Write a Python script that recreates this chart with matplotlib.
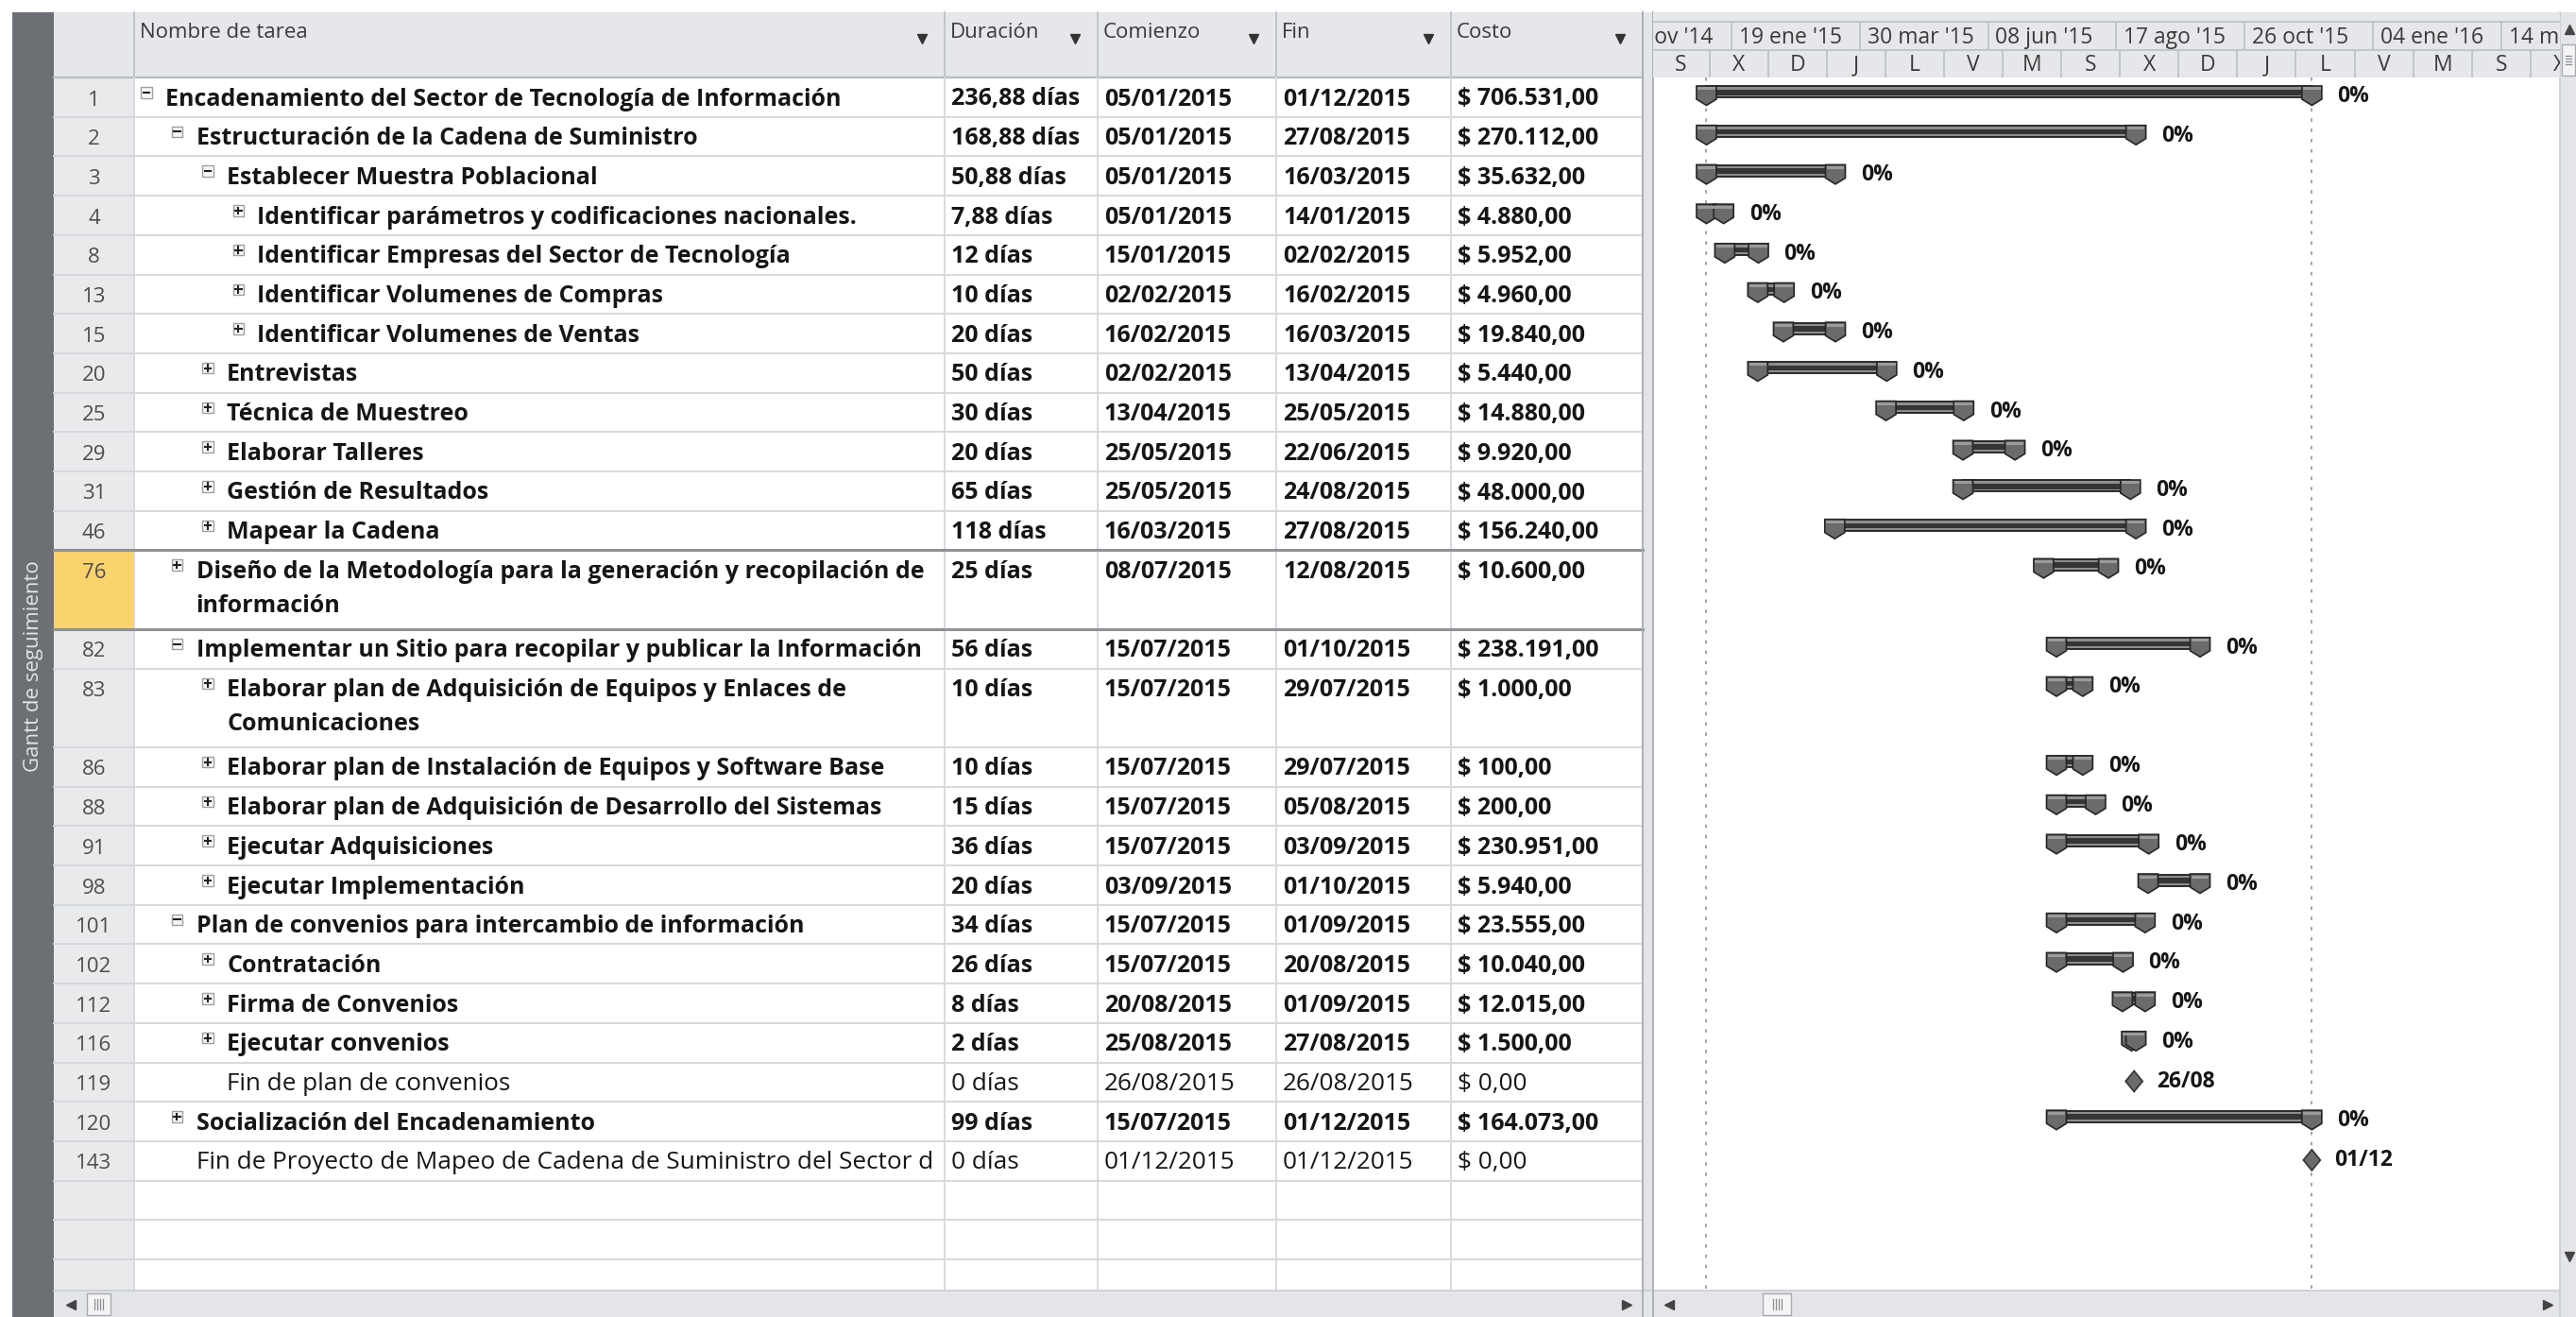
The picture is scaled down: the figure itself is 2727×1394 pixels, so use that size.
import matplotlib
matplotlib.use("Agg")
import matplotlib.pyplot as plt
import matplotlib.dates as mdates
from matplotlib.patches import Rectangle, Polygon
from matplotlib.transforms import Bbox, TransformedBbox
from datetime import datetime, timedelta

plt.rcParams["font.family"] = ["Open Sans", "DejaVu Sans"]

# ---------------------------------------------------------------------------
# Datos del proyecto (vista Gantt de seguimiento)
# ---------------------------------------------------------------------------
task_ids = [1, 2, 3, 4, 8, 13, 15, 20, 25, 29, 31, 46, 76, 82, 83, 86, 88, 91,
            98, 101, 102, 112, 116, 119, 120, 143]
task_names = [
    "Encadenamiento del Sector de Tecnología de Información",
    "Estructuración de la Cadena de Suministro",
    "Establecer Muestra Poblacional",
    "Identificar parámetros y codificaciones nacionales.",
    "Identificar Empresas del Sector de Tecnología",
    "Identificar Volumenes de Compras",
    "Identificar Volumenes de Ventas",
    "Entrevistas",
    "Técnica de Muestreo",
    "Elaborar Talleres",
    "Gestión de Resultados",
    "Mapear la Cadena",
    "Diseño de la Metodología para la generación y recopilación de\ninformación",
    "Implementar un Sitio para recopilar y publicar la Información",
    "Elaborar plan de Adquisición de Equipos y Enlaces de\nComunicaciones",
    "Elaborar plan de Instalación de Equipos y Software Base",
    "Elaborar plan de Adquisición de Desarrollo del Sistemas",
    "Ejecutar Adquisiciones",
    "Ejecutar Implementación",
    "Plan de convenios para intercambio de información",
    "Contratación",
    "Firma de Convenios",
    "Ejecutar convenios",
    "Fin de plan de convenios",
    "Socialización del Encadenamiento",
    "Fin de Proyecto de Mapeo de Cadena de Suministro del Sector d",
]
outline_levels = [0, 1, 2, 3, 3, 3, 3, 2, 2, 2, 2, 2, 1, 1, 2, 2, 2, 2, 2, 1,
                  2, 2, 2, 2, 1, 1]
toggles = ["-", "-", "-", "+", "+", "+", "+", "+", "+", "+", "+", "+", "+",
           "-", "+", "+", "+", "+", "+", "-", "+", "+", "+", "", "+", ""]
durations = ["236,88 días", "168,88 días", "50,88 días", "7,88 días", "12 días",
             "10 días", "20 días", "50 días", "30 días", "20 días", "65 días",
             "118 días", "25 días", "56 días", "10 días", "10 días", "15 días",
             "36 días", "20 días", "34 días", "26 días", "8 días", "2 días",
             "0 días", "99 días", "0 días"]
start_dates = ["05/01/2015", "05/01/2015", "05/01/2015", "05/01/2015", "15/01/2015",
               "02/02/2015", "16/02/2015", "02/02/2015", "13/04/2015", "25/05/2015",
               "25/05/2015", "16/03/2015", "08/07/2015", "15/07/2015", "15/07/2015",
               "15/07/2015", "15/07/2015", "15/07/2015", "03/09/2015", "15/07/2015",
               "15/07/2015", "20/08/2015", "25/08/2015", "26/08/2015", "15/07/2015",
               "01/12/2015"]
finish_dates = ["01/12/2015", "27/08/2015", "16/03/2015", "14/01/2015", "02/02/2015",
                "16/02/2015", "16/03/2015", "13/04/2015", "25/05/2015", "22/06/2015",
                "24/08/2015", "27/08/2015", "12/08/2015", "01/10/2015", "29/07/2015",
                "29/07/2015", "05/08/2015", "03/09/2015", "01/10/2015", "01/09/2015",
                "20/08/2015", "01/09/2015", "27/08/2015", "26/08/2015", "01/12/2015",
                "01/12/2015"]
costs = ["$ 706.531,00", "$ 270.112,00", "$ 35.632,00", "$ 4.880,00", "$ 5.952,00",
         "$ 4.960,00", "$ 19.840,00", "$ 5.440,00", "$ 14.880,00", "$ 9.920,00",
         "$ 48.000,00", "$ 156.240,00", "$ 10.600,00", "$ 238.191,00", "$ 1.000,00",
         "$ 100,00", "$ 200,00", "$ 230.951,00", "$ 5.940,00", "$ 23.555,00",
         "$ 10.040,00", "$ 12.015,00", "$ 1.500,00", "$ 0,00", "$ 164.073,00",
         "$ 0,00"]
bar_labels = ["0%"] * 23 + ["26/08", "0%", "01/12"]
is_milestone = [d == "0 días" for d in durations]

column_titles = ["Nombre de tarea", "Duración", "Comienzo", "Fin", "Costo"]

# escala de tiempo (dos niveles)
top_tier_first = "10/11/2014"
top_tier_labels = ["10 nov '14", "19 ene '15", "30 mar '15", "08 jun '15",
                   "17 ago '15", "26 oct '15", "04 ene '16", "14 mar '16"]
bottom_tier_first = "06/12/2014"
bottom_tier_labels = ["S", "X", "D", "J", "L", "V", "M", "S", "X", "D", "J",
                      "L", "V", "M", "S", "X"]
view_start = datetime(2014, 12, 7, 5)
view_end = datetime(2016, 4, 15, 2)

# ---------------------------------------------------------------------------
# Geometría (píxeles de la captura)
# ---------------------------------------------------------------------------
W, H, DPI = 2727, 1394, 100
TOP = 13
HEAD_B = 82
ROW_H = 41.7
STRIP_L, STRIP_R = 13, 57
NUM_R = 142
COL_EDGES = [142, 1000, 1162, 1351, 1536, 1739]
GL, GR = 1750, 2710
BODY_B = 1366

C_HEAD = "#e5e7ea"
C_GRID = "#d6d8db"
C_DIV = "#bfc2c6"
C_TEXT = "#161616"

FS_BOLD = 18
FS_NORMAL = 18.8
FS_HEAD = 16
FS_SCALE = 16.5


def parse(s):
    return datetime.strptime(s, "%d/%m/%Y")


fig = plt.figure(figsize=(W / DPI, H / DPI), dpi=DPI, facecolor="white")
base = fig.add_axes([0, 0, 1, 1])
base.set_xlim(0, W)
base.set_ylim(H, 0)
base.axis("off")

# franja lateral oscura
base.add_patch(Rectangle((STRIP_L, TOP), STRIP_R - STRIP_L, H - TOP, fc="#6c7075", ec="none"))
base.text((STRIP_L + STRIP_R) / 2 + 1, 705, "Gantt de seguimiento", rotation=90,
          ha="center", va="center", fontsize=16, color="#e2e3e5")

# encabezado de la tabla
base.add_patch(Rectangle((STRIP_R, TOP), COL_EDGES[-1] - STRIP_R, HEAD_B - TOP, fc=C_HEAD, ec="none"))
# columna de números
base.add_patch(Rectangle((STRIP_R, HEAD_B), NUM_R - STRIP_R, BODY_B - HEAD_B, fc="#e9eaec", ec="none"))

# filas
row_units = [2 if "\n" in n else 1 for n in task_names]
row_tops = []
y = HEAD_B
for u in row_units:
    row_tops.append(y)
    y += u * ROW_H
row_lines = [HEAD_B] + [t + u * ROW_H for t, u in zip(row_tops, row_units)]
extra = row_lines[-1]
while extra + ROW_H < BODY_B:
    extra += ROW_H
    row_lines.append(extra)

sel = task_ids.index(76)
base.add_patch(Rectangle((STRIP_R, row_tops[sel]), NUM_R - STRIP_R, row_units[sel] * ROW_H,
                         fc="#fbd36c", ec="none", zorder=1))

for yl in row_lines[1:]:
    base.plot([STRIP_R, COL_EDGES[-1]], [yl, yl], color=C_GRID, lw=1.4, zorder=2)
base.plot([STRIP_R, COL_EDGES[-1]], [HEAD_B, HEAD_B], color="#b8bbbf", lw=1.6, zorder=2)
for yl in (row_tops[sel], row_tops[sel] + row_units[sel] * ROW_H):
    base.plot([STRIP_R, COL_EDGES[-1]], [yl, yl], color="#8f9296", lw=2.2, zorder=3)

for xe in COL_EDGES:
    base.plot([xe, xe], [TOP, HEAD_B], color=C_DIV, lw=1.3, zorder=2)
    base.plot([xe, xe], [HEAD_B, BODY_B], color=C_GRID, lw=1.3, zorder=2)

# títulos de columna
for i, title in enumerate(column_titles):
    x0, x1 = COL_EDGES[i], COL_EDGES[i + 1]
    base.text(x0 + 6, 40, title, ha="left", va="baseline", fontsize=FS_HEAD, color="#3a3a3a")
    base.plot([x1 - 24], [41], marker="v", markersize=6.5, color="#333333", zorder=4)

# contenido
name_clip = TransformedBbox(Bbox.from_extents(COL_EDGES[0], HEAD_B, COL_EDGES[1], BODY_B), base.transData)
for i, tid in enumerate(task_ids):
    top = row_tops[i]
    bl = top + 29.5
    weight = "normal" if is_milestone[i] else "bold"
    fs = FS_NORMAL if is_milestone[i] else FS_BOLD
    base.text((STRIP_R + NUM_R) / 2, bl, str(tid), ha="center", va="baseline",
              fontsize=16, color="#4d4d4d", zorder=4)
    tx = 175 + 32.5 * outline_levels[i]
    if toggles[i]:
        bx, by = tx - 26, top + 10
        base.add_patch(Rectangle((bx, by), 11.5, 11.5, fc="#f7f7f7", ec="#9da0a4", lw=1, zorder=4))
        base.plot([bx + 2.5, bx + 9], [by + 5.75, by + 5.75], color="#222222", lw=1.5, zorder=5)
        if toggles[i] == "+":
            base.plot([bx + 5.75, bx + 5.75], [by + 2.5, by + 9], color="#222222", lw=1.5, zorder=5)
    for k, line in enumerate(task_names[i].split("\n")):
        t = base.text(tx, bl + k * 36, line, ha="left", va="baseline", fontsize=fs,
                      fontweight=weight, color=C_TEXT, zorder=4)
        t.set_clip_box(name_clip)
        t.set_clip_on(True)
    for j, val in enumerate([durations[i], start_dates[i], finish_dates[i], costs[i]]):
        base.text(COL_EDGES[j + 1] + 7, bl, val, ha="left", va="baseline", fontsize=fs,
                  fontweight=weight, color=C_TEXT, zorder=4)

# separador tabla / gantt
base.add_patch(Rectangle((COL_EDGES[-1], TOP), GL - COL_EDGES[-1], H - TOP, fc="#e3e5e8", ec="none"))
for xe in (COL_EDGES[-1], GL):
    base.plot([xe, xe], [TOP, H], color="#a9acb1", lw=1.3, zorder=3)

# barras de desplazamiento
base.add_patch(Rectangle((STRIP_R, BODY_B), GR - STRIP_R, H - BODY_B, fc="#e3e5e8", ec="none", zorder=3))
base.plot([STRIP_R, GR], [BODY_B, BODY_B], color="#c9ccd0", lw=1.2, zorder=4)
base.add_patch(Rectangle((GR, TOP), W - GR, H - TOP, fc="#e3e5e8", ec="none", zorder=3))
base.plot([GR, GR], [TOP, H], color="#c9ccd0", lw=1.2, zorder=4)
base.plot([COL_EDGES[-1], COL_EDGES[-1]], [BODY_B, H], color="#a9acb1", lw=1.3, zorder=4)
base.plot([GL, GL], [BODY_B, H], color="#a9acb1", lw=1.3, zorder=4)
for xa, mk in ((75, "<"), (1722, ">"), (1767, "<"), (2697, ">")):
    base.plot([xa], [1381], marker=mk, markersize=7, color="#444444", zorder=5)
for x0, x1 in ((92, 117), (1866, 1896)):
    base.add_patch(Rectangle((x0, 1369), x1 - x0, 23, fc="#f4f4f5", ec="#a7aaae", lw=1, zorder=5))
    xm = (x0 + x1) / 2
    for dx in (-4.5, -1.5, 1.5, 4.5):
        base.plot([xm + dx, xm + dx], [1375, 1386], color="#8a8d91", lw=0.9, zorder=6)
base.plot([2720], [31], marker="^", markersize=7, color="#444444", zorder=5)
base.plot([2720], [1330], marker="v", markersize=7, color="#444444", zorder=5)
base.add_patch(Rectangle((2712, 47), 14, 33, fc="#f4f4f5", ec="#a7aaae", lw=1, zorder=5))
for dy in (-4.5, -1.5, 1.5, 4.5):
    base.plot([2716, 2722], [63.5 + dy, 63.5 + dy], color="#8a8d91", lw=0.9, zorder=6)

# ---------------------------------------------------------------------------
# Escala de tiempo
# ---------------------------------------------------------------------------
hx = fig.add_axes([GL / W, 1 - HEAD_B / H, (GR - GL) / W, (HEAD_B - TOP) / H])
hx.set_xlim(view_start, view_end)
hx.set_ylim(HEAD_B, TOP)
hx.axis("off")
hx.axhspan(TOP, HEAD_B, color=C_HEAD, lw=0)
hx.axhline(23, color=C_DIV, lw=1.3)
hx.axhline(52.5, color=C_DIV, lw=1.3)

d0 = parse(top_tier_first)
for k, lab in enumerate(top_tier_labels):
    dk = d0 + timedelta(days=70 * k)
    hx.vlines(dk, 23, 52.5, color=C_DIV, lw=1.3)
    t = hx.text(dk + timedelta(days=4), 45.5, lab, ha="left", va="baseline",
                fontsize=FS_SCALE, color="#3a3a3a")
    t.set_clip_box(hx.bbox)
    t.set_clip_on(True)

d0 = parse(bottom_tier_first)
for k, lab in enumerate(bottom_tier_labels):
    dk = d0 + timedelta(days=32 * k)
    hx.vlines(dk, 52.5, HEAD_B, color=C_DIV, lw=1.3)
    t = hx.text(dk + timedelta(days=16), 75, lab, ha="center", va="baseline",
                fontsize=FS_SCALE, color="#3a3a3a")
    t.set_clip_box(hx.bbox)
    t.set_clip_on(True)

# ---------------------------------------------------------------------------
# Diagrama de Gantt
# ---------------------------------------------------------------------------
gx = fig.add_axes([GL / W, 1 - BODY_B / H, (GR - GL) / W, (BODY_B - HEAD_B) / H])
gx.set_xlim(view_start, view_end)
gx.set_ylim(BODY_B, HEAD_B)
gx.axis("off")

x_lo, x_hi = gx.get_xlim()
days_per_px = (x_hi - x_lo) / (GR - GL)

starts_num = [mdates.date2num(parse(s)) + 0.33 for s in start_dates]
finish_num = [mdates.date2num(parse(f)) + 0.7 for f in finish_dates]

for xv in (starts_num[0], finish_num[0]):
    gx.vlines(xv, HEAD_B, BODY_B, color="#9c9ea2", lw=1.3, linestyles=(0, (2, 4)), zorder=1)


def draw_cap(xc, top):
    hw = 10.5 * days_per_px
    pts = [(xc - hw, top + 9), (xc + hw, top + 9), (xc + hw, top + 23),
           (xc, top + 29.5), (xc - hw, top + 23)]
    gx.add_patch(Polygon(pts, closed=True, fc="#6b6b6b", ec="#262626", lw=1.2, zorder=5))
    gx.add_patch(Rectangle((xc - hw + 1.2 * days_per_px, top + 10.5), 2 * hw - 2.4 * days_per_px, 3,
                           fc="#9b9b9b", ec="none", zorder=6))


for i in range(len(task_ids)):
    top = row_tops[i]
    s, f = starts_num[i], finish_num[i]
    if is_milestone[i]:
        xc = mdates.date2num(parse(start_dates[i])) + 0.7
        hw = 9 * days_per_px
        pts = [(xc - hw, top + 20), (xc, top + 9), (xc + hw, top + 20), (xc, top + 31)]
        gx.add_patch(Polygon(pts, closed=True, fc="#6b6b6b", ec="#333333", lw=1.2, zorder=5))
        gx.annotate(bar_labels[i], (xc, top + 20), xytext=(24, 0), textcoords="offset pixels",
                    ha="left", va="center", fontsize=16.5, fontweight="bold", color=C_TEXT)
        continue
    gx.barh(top + 15.5, f - s, left=s, height=12, color="#8e8e8e", edgecolor="#1f1f1f",
            linewidth=1.3, zorder=3)
    gx.barh(top + 15.8, f - s, left=s, height=5.5, color="#353535", linewidth=0, zorder=4)
    draw_cap(s, top)
    draw_cap(f, top)
    gx.annotate(bar_labels[i], (f, top + 20), xytext=(27, 0), textcoords="offset pixels",
                ha="left", va="center", fontsize=16.5, fontweight="bold", color=C_TEXT)

fig.savefig("out.png", dpi=DPI, facecolor="white")
